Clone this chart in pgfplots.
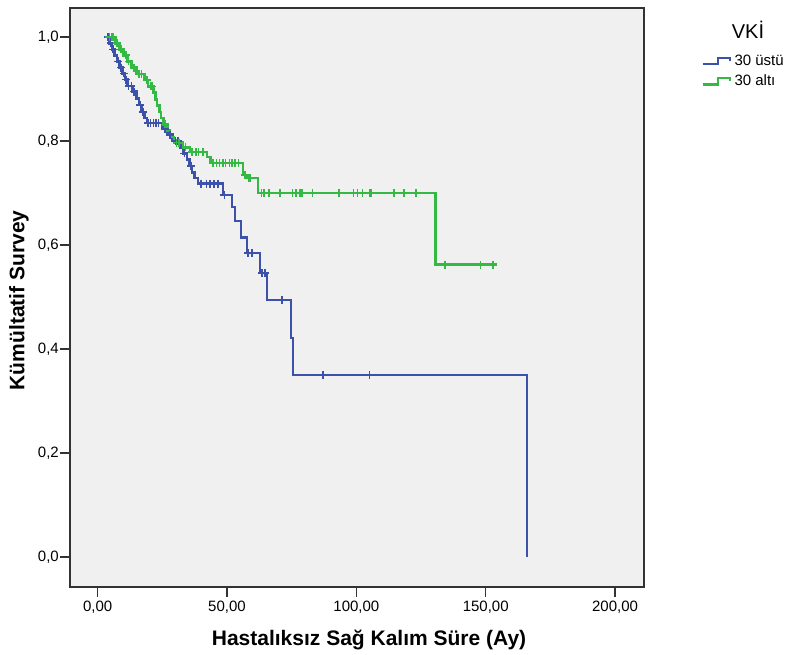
\documentclass[border=0pt]{standalone}
\usepackage{pgfplots}
\pgfplotsset{compat=1.18}
\usepackage{fontspec}
\setmainfont{Liberation Sans}

\definecolor{kmblue}{RGB}{60,82,170}
\definecolor{kmgreen}{RGB}{52,186,68}
\definecolor{plotbg}{RGB}{240,240,240}

\begin{document}
\begin{tikzpicture}
\begin{axis}[
    name=ax,
    scale only axis,
    clip mode=individual,
    width=574pt, height=579pt,
    xmin=-10.7, xmax=211.2,
    ymin=-0.0577, ymax=1.0558,
    axis background/.style={fill=plotbg},
    axis line style={line width=1.6pt, black!80},
    xtick={0,50,100,150,200},
    ytick={0,0.2,0.4,0.6,0.8,1.0},
    xtick pos=bottom, ytick pos=left,
    tick align=outside,
    major tick length=10pt,
    tick style={line width=1.5pt, black!80},
    /pgf/number format/assume math mode=true,
    xticklabel style={font=\fontsize{15}{17}\selectfont,
        /pgf/number format/.cd, fixed, fixed zerofill, precision=2, use comma},
    yticklabel style={font=\fontsize{15}{17}\selectfont, inner xsep=1pt,
        /pgf/number format/.cd, fixed, fixed zerofill, precision=1, use comma},
    xlabel={Hastalıksız Sağ Kalım Süre (Ay)},
    ylabel={Kümültatif Survey},
    every axis x label/.style={at={(axis description cs:0.521,-0.091)}, anchor=center,
        font=\fontsize{21}{24}\selectfont\bfseries},
    every axis y label/.style={at={(axis description cs:-0.089,0.495)}, anchor=center, rotate=90,
        font=\fontsize{21}{24}\selectfont\bfseries},
    legend style={draw=none, fill=none, at={(axis description cs:1.10,0.923)}, anchor=north west,
        font=\fontsize{15}{17}\selectfont, row sep=4pt, inner sep=0pt,
        nodes={inner xsep=3.5pt}},
    legend cell align=left,
    legend image code/.code={
        \draw[#1, line width=2.4pt] (0pt,-3.5pt) -- (15pt,-3.5pt) -- (15pt,3pt) -- (27pt,3pt) -- (27pt,-0.5pt);
    },
]
% 30 üstü
\addplot[const plot, kmblue, line width=2.6pt] coordinates {
    (3,1.0) (4.5,0.988) (5.5,0.976) (6.5,0.965) (7.5,0.953) (8.5,0.941) (9.5,0.93)
    (10.5,0.918) (11.5,0.906) (13.5,0.895) (15,0.882) (16,0.869) (17,0.856) (18,0.844)
    (19,0.835) (25,0.823) (27,0.812) (29,0.80) (32,0.788) (33,0.776) (34.5,0.764)
    (35.5,0.752) (36.5,0.74) (37.5,0.729) (38.8,0.718) (48.4,0.696) (51.9,0.673)
    (53.1,0.646) (55.4,0.615) (57.7,0.585) (62.7,0.546) (65.5,0.494) (74.7,0.421)
    (75.5,0.35) (166,0.0)
};
\addlegendentry{30 üstü}
% 30 altı
\addplot[const plot, kmgreen, line width=2.6pt] coordinates {
    (3.5,1.0) (7,0.988) (8.5,0.976) (10,0.965) (11.5,0.953) (13,0.941) (15,0.929)
    (18,0.917) (19.5,0.905) (21.5,0.893) (22.3,0.88) (23,0.868) (23.8,0.856) (24.5,0.844)
    (25.5,0.832) (27,0.82) (28,0.808) (29.5,0.797) (33,0.788) (35.7,0.779) (42.3,0.769)
    (43.5,0.758) (56.2,0.735) (57.7,0.729) (62,0.70) (130.6,0.562) (154.5,0.562)
};
\addlegendentry{30 altı}
% censored cases
\addplot[only marks, mark=+, mark size=4pt, kmblue, mark options={line width=1.5pt}, forget plot] coordinates {
    (4,1.0) (5,0.988) (6,0.976) (8,0.953) (9,0.941) (10,0.93) (11,0.918) (12,0.906)
    (13,0.906) (14,0.895) (16.5,0.869) (17.5,0.856) (19.5,0.835) (20.5,0.835) (21.5,0.835)
    (22.5,0.835) (23.5,0.835) (26,0.823) (28,0.812) (30,0.80) (31,0.80) (33.5,0.776)
    (36,0.752) (40,0.718) (42,0.718) (43.5,0.718) (45,0.718) (46.5,0.718) (49,0.696)
    (58.1,0.585) (59.6,0.585) (63.5,0.546) (64.7,0.546) (71.3,0.494) (87.1,0.35) (105,0.35)
};
\addplot[only marks, mark=+, mark size=4pt, kmgreen, mark options={line width=1.5pt}, forget plot] coordinates {
    (4.5,1.0) (5.5,1.0) (6,1.0) (7.5,0.988) (9,0.976) (11,0.965) (12,0.953) (14,0.941)
    (16,0.929) (17,0.929) (19,0.917) (20.5,0.905) (21,0.905) (26,0.832) (30.5,0.797)
    (31.5,0.797) (34,0.788) (36.5,0.779) (38,0.779) (39,0.779) (40.5,0.779) (41,0.779)
    (44.5,0.758) (46,0.758) (47,0.758) (48.5,0.758) (49.5,0.758) (51,0.758) (52,0.758)
    (53,0.758) (54.5,0.758) (57,0.735) (58.5,0.729) (59,0.729)
    (63.4,0.70) (64.3,0.70) (66.3,0.70) (70.4,0.70) (75.4,0.70) (76.6,0.70) (78.2,0.70)
    (79.0,0.70) (79.2,0.70) (83.1,0.70) (93.3,0.70) (98.8,0.70) (100.4,0.70) (102.3,0.70)
    (105.3,0.70) (105.9,0.70) (114.5,0.70) (118.4,0.70) (123.0,0.70)
    (134.3,0.562) (147.9,0.562) (152.8,0.562)
};
\end{axis}
\node[font=\fontsize{20}{22}\selectfont, anchor=center] at ([shift={(678pt,557pt)}]ax.south west) {VKİ};
\pgfresetboundingbox
\path ([shift={(-70pt,-68pt)}]ax.south west) rectangle ++(787pt,655pt);
\end{tikzpicture}
\end{document}
